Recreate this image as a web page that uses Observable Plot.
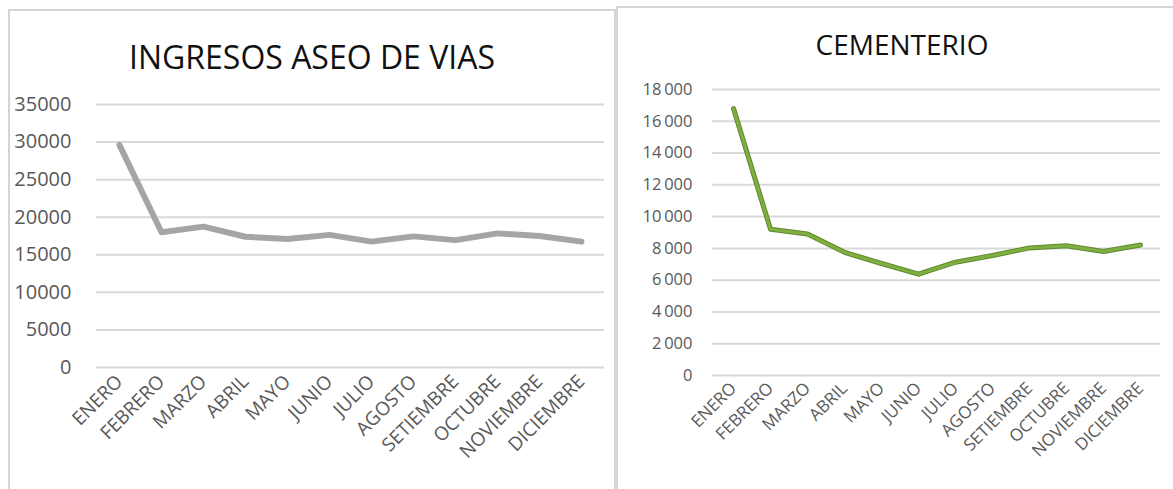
<!DOCTYPE html>
<html>
<head>
<meta charset="utf-8">
<script src="https://cdn.jsdelivr.net/npm/d3@7"></script>
<script src="https://cdn.jsdelivr.net/npm/@observablehq/plot@0.6"></script>
<style>
  html, body { margin: 0; padding: 0; background: #fff; width: 1173px; height: 489px; overflow: hidden; font-family: "Open Sans", sans-serif; }
  .frame { position: absolute; border: 2px solid #d4d4d4; box-sizing: border-box; background: #fff; }
  .title { position: absolute; text-align: center; color: #111; font-family: "Open Sans", sans-serif; white-space: nowrap; }
  .chart { position: absolute; top: 0; }
</style>
</head>
<body>
<div class="frame" style="left:8px; top:9px; width:608px; height:500px;"></div>
<div class="frame" style="left:616px; top:6px; width:570px; height:500px;"></div>
<div class="title" id="t1" style="left:96px; width:432px; top:37px; font-size:32px; line-height:40px;">INGRESOS ASEO DE VIAS</div>
<div class="title" id="t2" style="left:712px; width:380px; top:27px; font-size:28px; line-height:34px;">CEMENTERIO</div>
<div class="chart" id="c1" style="left:0px;"></div>
<div class="chart" id="c2" style="left:618px;"></div>
<script>
const meses = ["ENERO","FEBRERO","MARZO","ABRIL","MAYO","JUNIO","JULIO","AGOSTO","SETIEMBRE","OCTUBRE","NOVIEMBRE","DICIEMBRE"];
const aseoVias = [29600, 18000, 18750, 17400, 17100, 17650, 16750, 17450, 16950, 17850, 17500, 16750];
const cementerio = [16800, 9200, 8900, 7750, 7050, 6380, 7130, 7550, 8030, 8170, 7800, 8210];
const ticksAseo = [0, 5000, 10000, 15000, 20000, 25000, 30000, 35000];
const ticksCem = [0, 2000, 4000, 6000, 8000, 10000, 12000, 14000, 16000, 18000];

const dataAseo = meses.map((m, i) => ({mes: m, valor: aseoVias[i]}));
const dataCem = meses.map((m, i) => ({mes: m, valor: cementerio[i]}));

const p1 = Plot.plot({
  width: 612, height: 489,
  marginLeft: 96, marginRight: 8, marginTop: 104, marginBottom: 122,
  style: {fontFamily: "Open Sans, sans-serif", background: "transparent", overflow: "visible"},
  x: {type: "point", domain: meses, padding: 0.5, label: null},
  y: {domain: [0, 35000], label: null},
  marks: [
    Plot.gridY(ticksAseo, {stroke: "#d9d9d9", strokeOpacity: 1, strokeWidth: 2}),
    Plot.axisY(ticksAseo, {tickSize: 0, tickPadding: 25, fontSize: 20, fill: "#595959", tickFormat: d => String(d), label: null}),
    Plot.axisX({tickSize: 0, tickRotate: -45, tickPadding: 11, fontSize: 19, fill: "#595959", label: null}),
    Plot.line(dataAseo, {x: "mes", y: "valor", stroke: "#a5a5a5", strokeWidth: 6, strokeLinejoin: "round", strokeLinecap: "round"})
  ]
});
document.getElementById("c1").appendChild(p1);

const p2 = Plot.plot({
  width: 555, height: 489,
  marginLeft: 94, marginRight: 13, marginTop: 89, marginBottom: 114,
  style: {fontFamily: "Open Sans, sans-serif", background: "transparent", overflow: "visible"},
  x: {type: "point", domain: meses, padding: 0.5, label: null},
  y: {domain: [0, 18000], label: null},
  marks: [
    Plot.gridY(ticksCem, {stroke: "#d9d9d9", strokeOpacity: 1, strokeWidth: 2}),
    Plot.axisY(ticksCem, {tickSize: 0, tickPadding: 20, fontSize: 16.5, fill: "#595959", tickFormat: d => d3.format(",")(d).replace(/,/g, "\u2009"), label: null}),
    Plot.axisX({tickSize: 0, tickRotate: -45, tickPadding: 10, fontSize: 17, fill: "#595959", label: null}),
    Plot.line(dataCem, {x: "mes", y: "valor", stroke: "#5f8a2c", strokeWidth: 5, strokeLinejoin: "round", strokeLinecap: "round"}),
    Plot.line(dataCem, {x: "mes", y: "valor", stroke: "#7fae42", strokeWidth: 3, strokeLinejoin: "round", strokeLinecap: "round"})
  ]
});
document.getElementById("c2").appendChild(p2);
</script>
</body>
</html>
